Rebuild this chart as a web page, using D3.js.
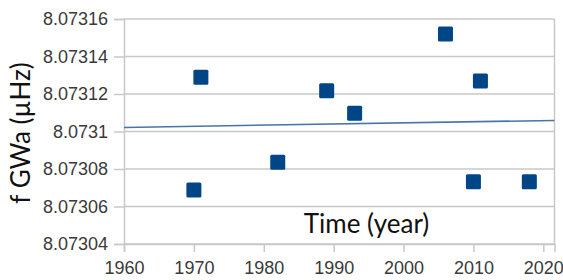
<!DOCTYPE html>
<html>
<head>
<meta charset="utf-8">
<script src="https://cdn.jsdelivr.net/npm/d3@7"></script>
<style>
  body { margin: 0; background: #fff; }
  svg { display: block; }
</style>
</head>
<body>
<div id="chart"></div>
<script>
// observed years and frequencies
const years = [1970, 1971, 1982, 1989, 1993, 2006, 2010, 2011, 2018];
const freqs = [8.0730688, 8.073129, 8.0730836, 8.0731218, 8.0731097, 8.073152, 8.0730732, 8.073127, 8.0730732];
const xTicks = [1960, 1970, 1980, 1990, 2000, 2010, 2020];
const yTicks = [8.07304, 8.07306, 8.07308, 8.0731, 8.07312, 8.07314, 8.07316];

const width = 563, height = 280;
const margin = {top: 19, right: 8.5, bottom: 36, left: 124};
const w = width - margin.left - margin.right,
      h = height - margin.top - margin.bottom;

const svg = d3.select("#chart").append("svg")
    .attr("width", width)
    .attr("height", height);
const g = svg.append("g")
    .attr("transform", "translate(" + margin.left + "," + margin.top + ")");

const x = d3.scaleLinear().domain([1960, 2021.6]).range([0, w]);
const y = d3.scaleLinear().domain([8.07304, 8.07316]).range([h, 0]);

// gridlines
g.selectAll(".grid")
    .data(yTicks)
  .enter().append("line")
    .attr("x1", 0).attr("x2", w)
    .attr("y1", d => y(d)).attr("y2", d => y(d))
    .attr("stroke", "#c8c8c8")
    .attr("stroke-width", 1.5);

// right border
g.append("line")
    .attr("x1", w).attr("x2", w)
    .attr("y1", 0).attr("y2", h)
    .attr("stroke", "#c8c8c8")
    .attr("stroke-width", 1.5);

// y axis
const yAxis = g.append("g")
    .call(d3.axisLeft(y).tickValues(yTicks).tickSize(10).tickPadding(6)
      .tickFormat(d => d3.format(".5f")(d).replace(/0+$/, "")));

// x axis
const xAxis = g.append("g")
    .attr("transform", "translate(0," + h + ")")
    .call(d3.axisBottom(x).tickValues(xTicks).tickSize(8).tickPadding(9)
      .tickFormat(d3.format("d")));

[yAxis, xAxis].forEach(a => {
  a.select(".domain").attr("stroke", "#c8c8c8").attr("stroke-width", 1.5);
  a.selectAll(".tick line").attr("stroke", "#c8c8c8").attr("stroke-width", 1.5);
  a.selectAll(".tick text")
    .attr("fill", "#3a3a3a")
    .style("font-family", "'Liberation Sans', Arial, sans-serif")
    .style("font-size", "18px");
});

// least-squares trend line
const mx = d3.mean(years), my = d3.mean(freqs);
const slope = d3.sum(years, (d, i) => (d - mx) * (freqs[i] - my)) /
              d3.sum(years, d => (d - mx) * (d - mx));
const trend = x.domain().map(d => [d, my + slope * (d - mx)]);

g.append("path")
    .datum(trend)
    .attr("fill", "none")
    .attr("stroke", "#4775aa")
    .attr("stroke-width", 1.6)
    .attr("d", d3.line().x(d => x(d[0])).y(d => y(d[1])));

// points
const s = 15;
g.selectAll(".pt")
    .data(years)
  .enter().append("rect")
    .attr("x", d => x(d) - s / 2)
    .attr("y", (d, i) => y(freqs[i]) - s / 2)
    .attr("width", s).attr("height", s)
    .attr("rx", 1.5)
    .attr("fill", "#004586");

// titles
g.append("text")
    .attr("x", x(1994.7))
    .attr("y", 214)
    .attr("text-anchor", "middle")
    .style("font-family", "Lato, sans-serif")
    .style("font-size", "26px")
    .attr("fill", "#111")
    .text("Time (year)");

svg.append("text")
    .attr("transform", "translate(30,133) rotate(-90)")
    .attr("text-anchor", "middle")
    .style("font-family", "Lato, sans-serif")
    .style("font-size", "26px")
    .attr("fill", "#111")
    .text("f GWa (µHz)");
</script>
</body>
</html>
